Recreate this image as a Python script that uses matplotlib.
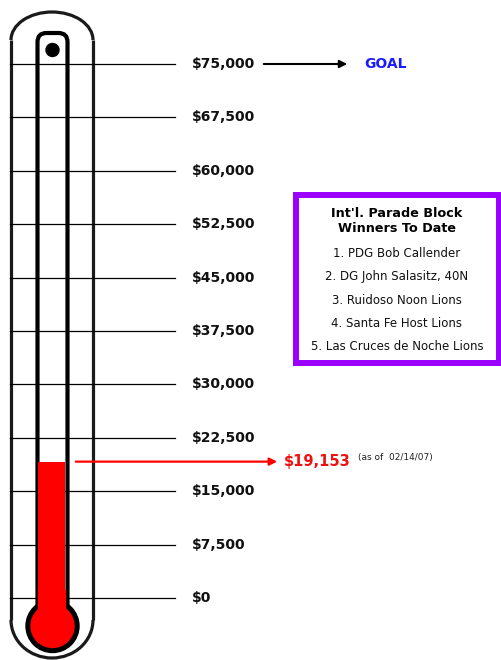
import numpy as np
import matplotlib
matplotlib.use("Agg")
import matplotlib.pyplot as plt
from matplotlib.patches import Rectangle, Circle, Arc, FancyBboxPatch

# fundraising levels shown on the thermometer
levels = [0, 7500, 15000, 22500, 30000, 37500, 45000, 52500, 60000, 67500, 75000]
level_labels = ["$0", "$7,500", "$15,000", "$22,500", "$30,000", "$37,500",
                "$45,000", "$52,500", "$60,000", "$67,500", "$75,000"]
goal = 75000
raised = 19153
raised_label = "$19,153"
as_of = "(as of  02/14/07)"

box_title = "Int'l. Parade Block\nWinners To Date"
winners = ["PDG Bob Callender", "DG John Salasitz, 40N", "Ruidoso Noon Lions",
           "Santa Fe Host Lions", "Las Cruces de Noche Lions"]

W, H = 501, 660
fig = plt.figure(figsize=(W / 100, H / 100), dpi=100)

# pixel axes for the drawing of the thermometer
ax = fig.add_axes([0, 0, 1, 1])
ax.set_xlim(0, W)
ax.set_ylim(H, 0)
ax.axis("off")

# value axes: $0 sits at pixel 598, $75,000 at pixel 64
y0, y1 = 598, 64
vax = fig.add_axes([0, (H - y0) / H, 1, (y0 - y1) / H])
vax.set_xlim(0, W)
vax.set_ylim(0, goal)
vax.axis("off")
vax.patch.set_visible(False)

wall = "#1a1a1a"
# outer glass: straight sides + rounded top and bottom
ax.plot([11, 11], [40, 620], color=wall, lw=2.3, solid_capstyle="butt")
ax.plot([93, 93], [40, 620], color=wall, lw=2.3, solid_capstyle="butt")
ax.add_patch(Arc((52, 40), 82, 56, theta1=180, theta2=360, color=wall, lw=2.3))
ax.add_patch(Arc((52, 620), 82, 76, theta1=0, theta2=180, color=wall, lw=2.3))

# inner tube
ax.add_patch(FancyBboxPatch((37.5, 33), 30, 600, boxstyle="round,pad=0,rounding_size=9",
                            fill=False, ec="black", lw=3))
ax.add_patch(Circle((52.5, 50), 6.5, color="black"))

# scale lines and labels
for v, lab in zip(levels, level_labels):
    vax.plot([10, 175], [v, v], color="black", lw=0.9, zorder=1, clip_on=False)
    vax.text(192, v, lab, ha="left", va="center", fontsize=10,
             fontweight="bold", color="#111111", zorder=5)

# bulb
vax.add_patch(Circle((52.5, 626), 26.5, color="black", transform=ax.transData,
                     zorder=2, clip_on=False))
vax.add_patch(Circle((52.5, 626), 21.5, color="red", transform=ax.transData,
                     zorder=3, clip_on=False))
vax.add_patch(Rectangle((38.5, 590), 27, 25, color="red", transform=ax.transData,
                        zorder=3, clip_on=False))

# mercury column
vax.bar(52, raised, width=27, bottom=0, color="red", zorder=3, clip_on=False)

# goal arrow
vax.annotate("", xy=(350, goal), xytext=(261, goal),
             arrowprops=dict(arrowstyle="-|>", color="black", lw=1.5, mutation_scale=11))
vax.text(364, goal, "GOAL", ha="left", va="center", fontsize=10,
         fontweight="bold", color="#1a1aff")

# raised arrow
vax.annotate("", xy=(280, raised), xytext=(73, raised),
             arrowprops=dict(arrowstyle="-|>", color="red", lw=1.6, mutation_scale=11))
vax.text(284, raised, raised_label, ha="left", va="center", fontsize=10.5,
         fontweight="bold", color="#ee1111")
vax.annotate(as_of, xy=(358, raised), xytext=(0, 3), textcoords="offset points",
             ha="left", va="center", fontsize=6.5, color="#222222")

# winners box
ax.add_patch(Rectangle((296, 195), 203, 167.5, fc="white", ec="#9a00ff", lw=4.3, zorder=4))
ax.text(397, 221, box_title, ha="center", va="center", fontsize=9.2,
        fontweight="bold", linespacing=1.25, zorder=5)
for i, name in enumerate(winners):
    ax.text(397, 253.5 + i * 23.3, f"{i + 1}. {name}", ha="center", va="center",
            fontsize=8.5, color="#111111", zorder=5)

fig.savefig("out.png", dpi=100)
